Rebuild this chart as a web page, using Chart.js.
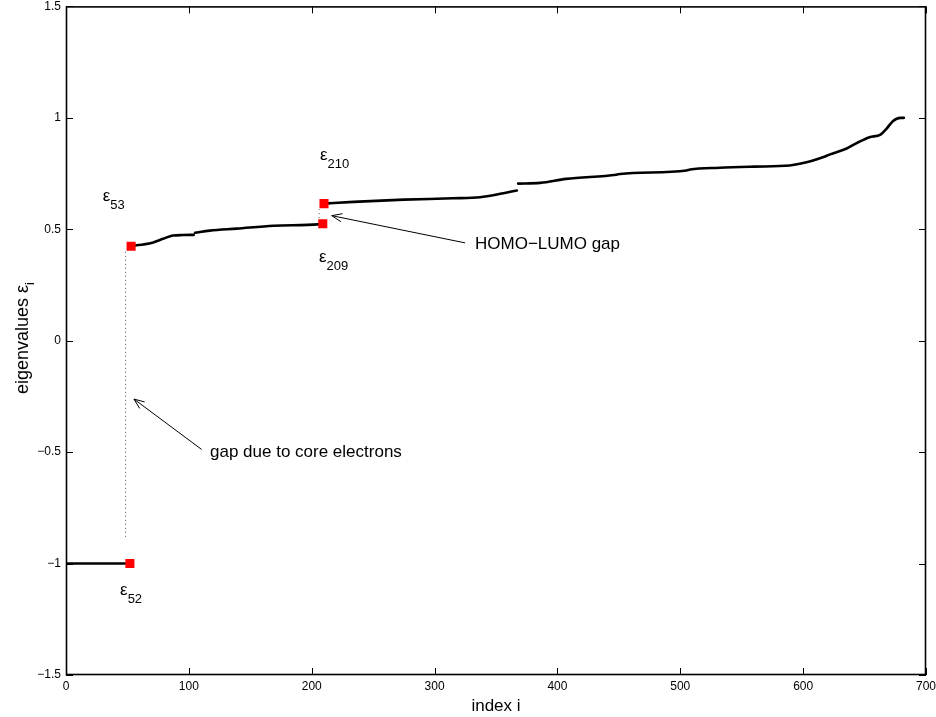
<!DOCTYPE html>
<html><head><meta charset="utf-8">
<script src="https://cdn.jsdelivr.net/npm/chart.js@4.4.1/dist/chart.umd.min.js"></script>
<style>html,body{margin:0;padding:0;background:#fff}#wrap{width:936px;height:717px}</style>
</head><body><div id="wrap"><canvas id="c" width="936" height="717"></canvas></div>
<script>
// ---- data ----
const xTickValues = [0, 100, 200, 300, 400, 500, 600, 700];
const yTickValues = [-1.5, -1, -0.5, 0, 0.5, 1, 1.5];

const coreIdx = [1, 10, 20, 30, 40, 52];
const coreVal = [-1, -1, -1, -1, -1, -1];

const band1Idx = [53, 56, 63, 71, 79, 87, 95, 104];
const band1Val = [0.424, 0.427, 0.432, 0.441, 0.457, 0.472, 0.474, 0.475];

const band2Idx = [105, 117, 139, 169, 205, 209];
const band2Val = [0.484, 0.494, 0.503, 0.516, 0.522, 0.525];

const band3Idx = [210, 234, 275, 315, 337, 351, 357, 367];
const band3Val = [0.615, 0.623, 0.633, 0.639, 0.644, 0.656, 0.663, 0.674];

const band4Idx = [368, 386, 407, 448, 451, 505, 508, 532, 560, 589, 597, 606, 616, 622, 635, 644, 654, 663, 668, 673, 679, 682];
const band4Val = [0.705, 0.708, 0.726, 0.745, 0.748, 0.764, 0.768, 0.776, 0.781, 0.786, 0.794, 0.805, 0.823, 0.836, 0.861, 0.888, 0.913, 0.925, 0.952, 0.985, 1.0, 1.0];

const markIdx = [52, 53, 209, 210];
const markVal = [-1, 0.424, 0.525, 0.615];

const coreGapIdx = [48.5, 48.5];
const coreGapVal = [-0.88, 0.40];
const homoGapIdx = [206, 206];
const homoGapVal = [0.55, 0.59];

// arrows: [tailX, tailY, tipX, tipY] in data units
const arrowCore = [110.4, -0.488, 55.3, -0.262];
const arrowHomo = [324.8, 0.439, 216.3, 0.561];

// eigenvalue labels: subscript, x, y (data units, baseline of symbol)
const epsNames = ['53', '210', '209', '52'];
const epsX = [29.9, 206.7, 205.9, 44.0];
const epsY = [0.626, 0.813, 0.352, -1.141];

const noteTexts = ['gap due to core electrons', 'HOMO\u2212LUMO gap'];
const noteX = [117.2, 332.9];
const noteY = [-0.521, 0.411];

const xTitle = 'index i';
const yTitle = 'eigenvalues \u03b5';
const yTitleSub = 'i';

// ---- build ----
const pts = (xs, ys) => xs.map((x, k) => ({x: x, y: ys[k]}));
const FONT = "'Liberation Sans', Arial, Helvetica, sans-serif";
Chart.defaults.font.family = FONT;
const fmt = v => String(v).replace('-', '\u2212');

const lineDs = (xs, ys) => ({data: pts(xs, ys), showLine: true, borderColor: '#000', borderWidth: 2.6,
  pointRadius: 0, cubicInterpolationMode: 'monotone', fill: false, borderCapStyle: 'round', order: 1});
const dotDs = (xs, ys) => ({data: pts(xs, ys), showLine: true, borderColor: '#555', borderWidth: 1,
  borderDash: [1, 3], pointRadius: 0, fill: false, order: 2});

const decor = {
  id: 'decor',
  afterDatasetsDraw(chart) {
    const {ctx, chartArea: a, scales: {x, y}} = chart;
    ctx.save();
    ctx.strokeStyle = '#000'; ctx.lineWidth = 1.6;
    ctx.strokeRect(a.left + 0.5, a.top + 0.5, a.right - a.left - 1, a.bottom - a.top - 1);
    ctx.lineWidth = 1;
    const tl = 7;
    ctx.beginPath();
    xTickValues.forEach(v => {
      const px = Math.round(x.getPixelForValue(v)) + 0.5;
      ctx.moveTo(px, a.bottom); ctx.lineTo(px, a.bottom - tl);
      ctx.moveTo(px, a.top); ctx.lineTo(px, a.top + tl);
    });
    yTickValues.forEach(v => {
      const py = Math.round(y.getPixelForValue(v)) + 0.5;
      ctx.moveTo(a.left, py); ctx.lineTo(a.left + tl, py);
      ctx.moveTo(a.right, py); ctx.lineTo(a.right - tl, py);
    });
    ctx.stroke();
    const arrow = (r) => {
      const x0 = x.getPixelForValue(r[0]), y0 = y.getPixelForValue(r[1]);
      const x1 = x.getPixelForValue(r[2]), y1 = y.getPixelForValue(r[3]);
      const ang = Math.atan2(y1 - y0, x1 - x0);
      ctx.beginPath(); ctx.moveTo(x0, y0); ctx.lineTo(x1, y1); ctx.stroke();
      const h = 11, sp = 0.38;
      ctx.beginPath();
      ctx.moveTo(x1 - h * Math.cos(ang - sp), y1 - h * Math.sin(ang - sp));
      ctx.lineTo(x1, y1);
      ctx.lineTo(x1 - h * Math.cos(ang + sp), y1 - h * Math.sin(ang + sp));
      ctx.stroke();
    };
    arrow(arrowCore); arrow(arrowHomo);
    ctx.fillStyle = '#000';
    ctx.textBaseline = 'alphabetic'; ctx.textAlign = 'left';
    ctx.font = '17px ' + FONT;
    noteTexts.forEach((t, k) => ctx.fillText(t, x.getPixelForValue(noteX[k]), y.getPixelForValue(noteY[k])));
    epsNames.forEach((n, k) => {
      const px = x.getPixelForValue(epsX[k]), py = y.getPixelForValue(epsY[k]);
      ctx.font = '17px ' + FONT;
      ctx.fillText('\u03b5', px, py);
      const w = ctx.measureText('\u03b5').width;
      ctx.font = '13px ' + FONT;
      ctx.fillText(n, px + w, py + 8);
    });
    ctx.font = '17px ' + FONT;
    ctx.textAlign = 'center';
    ctx.fillText(xTitle, (a.left + a.right) / 2, 711);
    ctx.save();
    ctx.translate(28, 394);
    ctx.rotate(-Math.PI / 2);
    ctx.textAlign = 'left';
    ctx.font = '18px ' + FONT;
    const tw = ctx.measureText(yTitle).width;
    ctx.fillText(yTitle, 0, 0);
    ctx.font = '13px ' + FONT;
    ctx.fillText(yTitleSub, tw, 6);
    ctx.restore();
    ctx.restore();
  }
};

new Chart(document.getElementById('c'), {
  type: 'scatter',
  data: {datasets: [
    {data: pts(markIdx, markVal), pointStyle: 'rect', pointRadius: 6.4, backgroundColor: '#ff0000',
     borderColor: '#ff0000', borderWidth: 0, showLine: false, order: 0},
    dotDs(coreGapIdx, coreGapVal),
    dotDs(homoGapIdx, homoGapVal),
    lineDs(coreIdx, coreVal),
    lineDs(band1Idx, band1Val),
    lineDs(band2Idx, band2Val),
    lineDs(band3Idx, band3Val),
    lineDs(band4Idx, band4Val)
  ]},
  options: {
    responsive: false, animation: false, devicePixelRatio: 1,
    layout: {padding: {top: 6, right: 10, left: 0, bottom: 0}},
    plugins: {legend: {display: false}, tooltip: {enabled: false}},
    scales: {
      x: {type: 'linear', min: 0, max: 700,
        afterBuildTicks: s => { s.ticks = xTickValues.map(v => ({value: v})); },
        ticks: {font: {size: 12}, color: '#000', padding: 4, maxRotation: 0, autoSkip: false, callback: fmt},
        grid: {display: false, drawTicks: false}, border: {display: false},
        afterFit: s => { s.height = 42; s.paddingLeft = 0; s.paddingRight = 0; }},
      y: {type: 'linear', min: -1.5, max: 1.5,
        afterBuildTicks: s => { s.ticks = yTickValues.map(v => ({value: v})); },
        ticks: {font: {size: 12}, color: '#000', padding: 5, autoSkip: false, callback: fmt},
        grid: {display: false, drawTicks: false}, border: {display: false},
        afterFit: s => { s.width = 66; s.paddingTop = 0; s.paddingBottom = 0; }}
    }
  },
  plugins: [decor]
});
</script></body></html>
